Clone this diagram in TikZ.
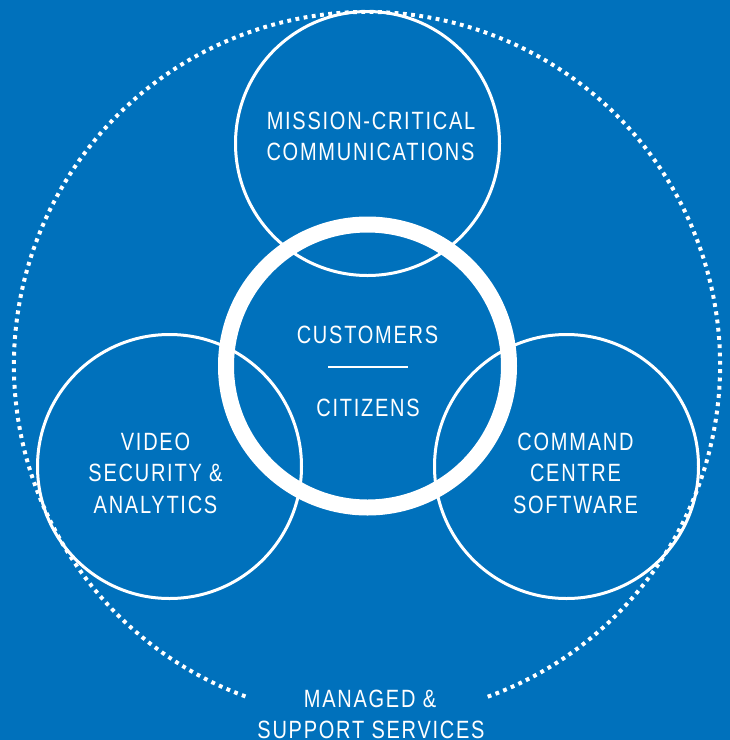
\documentclass[tikz,border=0pt]{standalone}
\usepackage{fontspec}
\setmainfont{Liberation Sans}[FakeStretch=0.8,LetterSpace=7]
\definecolor{bgblue}{RGB}{0,113,188}
\begin{document}
\begin{tikzpicture}[x=1pt,y=-1pt,
  ringthin/.style={circle,draw=white,line width=3pt,minimum size=264pt,inner sep=0pt,outer sep=0pt},
  ringthick/.style={circle,draw=white,line width=16pt,minimum size=283pt,inner sep=0pt,outer sep=0pt},
  lbl/.style={anchor=base,text=white,inner sep=0pt,outer sep=0pt,font=\fontsize{25}{31}\selectfont}]
\fill[bgblue] (0,0) rectangle (730,740);
\useasboundingbox (0,0) rectangle (730,740);
% dotted outer ring with gap at bottom
\draw[white,line width=4pt,dash pattern=on 3.8pt off 4.5pt] (367,365) ++(70:353) arc[start angle=70,end angle=-250,radius=353];
% circles
\node[ringthin] (top) at (367.5,143.5) {};
\node[ringthin] (left) at (169.5,466.5) {};
\node[ringthin] (right) at (566.5,466.5) {};
\node[ringthick] (center) at (367.5,366) {};
% labels
\node[lbl] (t1) at (371,129) {MISSION-CRITICAL};
\node[lbl] (t2) at (370.5,160) {COMMUNICATIONS};
\node[lbl] (c1) at (367.5,343) {CUSTOMERS};
\node[lbl] (c2) at (368,416) {CITIZENS};
\coordinate (sepL) at (328,367);
\coordinate (sepR) at (408,367);
\draw[white,line width=2pt] (sepL) -- (sepR);
\node[lbl] (l1) at (155.5,450) {VIDEO};
\node[lbl] (l2) at (155.5,481.5) {SECURITY \&};
\node[lbl] (l3) at (155.5,513) {ANALYTICS};
\node[lbl] (r1) at (575.5,450) {COMMAND};
\node[lbl] (r2) at (575.5,481.5) {CENTRE};
\node[lbl] (r3) at (575.5,513) {SOFTWARE};
\node[lbl] (m1) at (370,707) {MANAGED \&};
\node[lbl] (m2) at (371,738) {SUPPORT SERVICES};
\end{tikzpicture}
\end{document}
